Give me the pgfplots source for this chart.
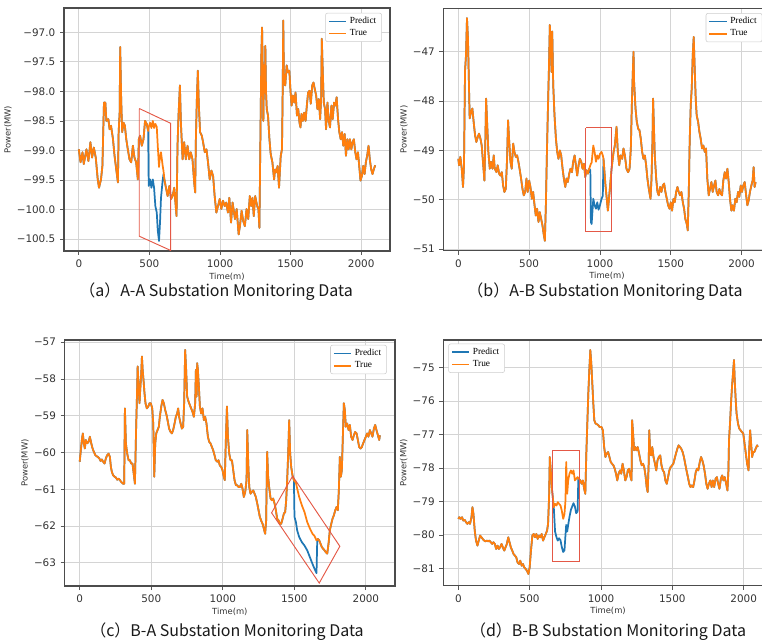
\documentclass[border=0pt]{standalone}
\usepackage{fontspec}
\usepackage{pgfplots}
\usepackage{pgfplotstable}
\pgfplotsset{compat=1.18}
\setmainfont{DejaVu Sans}
\newfontfamily\tickfont{DejaVu Sans}
\newfontfamily\legfont{Liberation Serif}
\newfontfamily\capfont{Noto Sans CJK SC}

\definecolor{mblue}{RGB}{31,119,180}
\definecolor{morange}{RGB}{255,127,14}
\definecolor{boxred}{RGB}{228,88,70}

\pgfplotstableread{
x t p
0 -98.98 -98.98
12 -99.20 -99.20
26 -99.03 -99.03
35 -99.23 -99.23
54 -98.98 -98.98
68 -99.18 -99.18
82 -98.86 -98.86
94 -99.12 -99.12
106 -98.95 -98.95
120 -99.12 -99.12
134 -99.49 -99.49
143 -99.63 -99.63
157 -99.49 -99.49
167 -99.26 -99.26
178 -98.19 -98.19
188 -98.19 -98.19
195 -98.50 -98.50
209 -98.47 -98.47
218 -98.64 -98.64
228 -98.58 -98.58
242 -98.81 -98.81
253 -99.09 -99.09
265 -99.32 -99.32
277 -99.54 -99.54
282 -98.69 -98.69
289 -98.36 -98.36
293 -97.25 -97.25
300 -98.13 -98.13
307 -98.69 -98.69
317 -98.53 -98.53
326 -98.58 -98.58
336 -98.81 -98.81
347 -98.98 -98.98
359 -99.15 -99.15
371 -99.20 -99.20
383 -98.92 -98.92
394 -99.12 -99.12
406 -99.20 -99.20
418 -99.49 -99.49
425 -98.81 -98.81
434 -98.75 -98.75
446 -98.92 -98.92
458 -98.81 -98.81
469 -98.50 -98.50
481 -98.55 -98.55
491 -98.67 -98.67
495 -98.60 -99.60
505 -98.53 -99.49
514 -98.62 -99.63
524 -98.50 -99.49
533 -98.62 -99.63
542 -98.55 -99.94
552 -98.60 -100.05
559 -98.92 -100.35
568 -99.28 -100.53
575 -99.10 -100.22
582 -99.03 -99.80
594 -99.26 -99.50
600 -99.35 -99.40
606 -99.49 -99.49
617 -99.63 -99.63
629 -99.77 -99.77
641 -99.60 -99.60
653 -99.82 -99.82
664 -99.77 -99.77
676 -99.63 -99.63
692 -100.11 -100.11
699 -98.92 -98.92
706 -98.41 -98.41
716 -97.90 -97.90
723 -98.53 -98.53
735 -99.15 -99.15
746 -98.86 -98.86
758 -99.15 -99.15
770 -98.92 -98.92
782 -99.15 -99.15
793 -99.03 -99.03
805 -99.15 -99.15
817 -99.54 -99.54
824 -99.71 -99.71
829 -98.81 -98.81
836 -98.13 -98.13
843 -97.65 -97.65
850 -98.24 -98.24
859 -98.69 -98.69
871 -98.75 -98.75
880 -98.86 -98.86
892 -99.03 -99.03
904 -98.98 -98.98
915 -99.20 -99.20
927 -99.49 -99.49
939 -99.34 -99.34
951 -99.43 -99.43
962 -99.77 -99.77
974 -100.05 -100.05
986 -99.94 -99.94
998 -99.82 -99.82
1009 -99.99 -99.99
1021 -99.85 -99.85
1033 -99.94 -99.94
1044 -99.88 -99.88
1056 -100.05 -100.05
1066 -99.80 -99.80
1078 -100.22 -100.22
1089 -99.88 -99.88
1106 -100.16 -100.16
1118 -99.99 -99.99
1132 -100.42 -100.42
1141 -100.28 -100.28
1153 -100.02 -100.02
1164 -100.19 -100.19
1176 -100.28 -100.28
1188 -99.99 -99.99
1200 -100.16 -100.16
1211 -99.77 -99.77
1221 -99.94 -99.94
1230 -99.80 -99.80
1239 -100.11 -100.11
1249 -99.77 -99.77
1263 -99.94 -99.94
1272 -99.99 -99.99
1279 -100.31 -100.31
1286 -98.81 -98.81
1293 -97.34 -97.34
1298 -96.92 -96.92
1303 -97.68 -97.68
1307 -98.50 -98.50
1312 -97.56 -97.56
1317 -98.02 -98.02
1321 -97.23 -97.23
1326 -98.02 -98.02
1331 -98.30 -98.30
1340 -98.41 -98.41
1350 -98.81 -98.81
1359 -99.06 -99.06
1371 -99.20 -99.20
1383 -99.49 -99.49
1390 -99.32 -99.32
1399 -99.37 -99.37
1408 -99.26 -99.26
1418 -99.63 -99.63
1430 -99.09 -99.09
1439 -98.98 -98.98
1444 -97.96 -97.96
1448 -96.80 -96.80
1453 -97.85 -97.85
1462 -97.90 -97.90
1472 -97.56 -97.56
1481 -97.68 -97.68
1491 -97.65 -97.65
1500 -98.02 -98.02
1507 -98.24 -98.24
1516 -98.07 -98.07
1526 -98.19 -98.19
1535 -98.02 -98.02
1545 -98.41 -98.41
1554 -98.30 -98.30
1563 -98.53 -98.53
1570 -98.61 -98.61
1577 -98.38 -98.38
1587 -98.50 -98.50
1596 -98.36 -98.36
1606 -98.50 -98.50
1615 -98.24 -98.24
1624 -98.02 -98.02
1634 -97.99 -97.99
1643 -98.21 -98.21
1653 -97.90 -97.90
1662 -97.85 -97.85
1671 -97.96 -97.96
1681 -98.07 -98.07
1690 -98.30 -98.30
1700 -98.13 -98.13
1709 -98.47 -98.47
1716 -98.13 -98.13
1721 -97.11 -97.11
1728 -97.68 -97.68
1735 -98.19 -98.19
1744 -98.30 -98.30
1751 -98.64 -98.64
1761 -98.19 -98.19
1770 -98.50 -98.50
1779 -98.61 -98.61
1789 -98.24 -98.24
1798 -98.47 -98.47
1808 -98.19 -98.19
1817 -98.24 -98.24
1826 -98.10 -98.10
1836 -98.47 -98.47
1845 -98.69 -98.69
1855 -98.81 -98.81
1864 -98.69 -98.69
1873 -98.92 -98.92
1883 -98.72 -98.72
1892 -99.09 -99.09
1902 -98.81 -98.81
1911 -98.98 -98.98
1920 -98.81 -98.81
1930 -98.98 -98.98
1939 -98.86 -98.86
1948 -98.81 -98.81
1958 -99.03 -99.03
1967 -99.15 -99.15
1977 -99.03 -99.03
1986 -99.26 -99.26
1995 -99.51 -99.51
2005 -99.43 -99.43
2014 -99.26 -99.26
2024 -99.40 -99.40
2033 -99.20 -99.20
2042 -99.09 -99.09
2052 -98.92 -98.92
2061 -99.15 -99.15
2071 -99.32 -99.32
2080 -99.40 -99.40
2089 -99.32 -99.32
2099 -99.25 -99.25
}\dataA

\pgfplotstableread{
x t p
0 -49.17 -49.17
5 -49.30 -49.30
14 -49.13 -49.13
24 -49.37 -49.37
33 -49.74 -49.74
40 -49.30 -49.30
47 -47.41 -47.41
54 -47.07 -47.07
61 -46.32 -46.32
68 -46.73 -46.73
73 -47.41 -47.41
80 -48.35 -48.35
90 -48.22 -48.22
99 -48.15 -48.15
108 -48.42 -48.42
118 -48.69 -48.69
127 -48.83 -48.83
137 -48.73 -48.73
146 -48.66 -48.66
156 -48.76 -48.76
165 -48.90 -48.90
174 -49.23 -49.23
184 -49.61 -49.61
191 -48.76 -48.76
196 -47.95 -47.95
203 -48.42 -48.42
212 -49.03 -49.03
222 -49.37 -49.37
231 -49.23 -49.23
241 -49.37 -49.37
250 -49.10 -49.10
257 -49.37 -49.37
269 -49.44 -49.44
278 -49.30 -49.30
288 -49.47 -49.47
297 -49.51 -49.51
307 -49.44 -49.44
316 -49.71 -49.71
325 -49.84 -49.84
335 -49.78 -49.78
344 -49.17 -49.17
351 -48.39 -48.39
358 -48.76 -48.76
368 -49.23 -49.23
377 -49.37 -49.37
387 -48.86 -48.86
396 -49.03 -49.03
406 -49.13 -49.13
415 -49.10 -49.10
424 -49.23 -49.23
434 -49.40 -49.40
443 -49.57 -49.57
453 -49.78 -49.78
462 -49.91 -49.91
472 -49.84 -49.84
481 -49.57 -49.57
490 -49.84 -49.84
500 -49.61 -49.61
509 -49.74 -49.74
519 -49.98 -49.98
528 -49.84 -49.84
538 -50.11 -50.11
547 -50.32 -50.32
556 -50.18 -50.18
566 -50.45 -50.45
575 -50.25 -50.25
585 -50.39 -50.39
594 -50.52 -50.52
604 -50.72 -50.72
611 -50.83 -50.83
618 -50.11 -50.11
625 -49.10 -49.10
632 -48.22 -48.22
639 -47.41 -47.41
646 -46.46 -46.46
653 -46.86 -46.86
658 -47.41 -47.41
663 -46.59 -46.59
670 -47.68 -47.68
679 -48.29 -48.29
689 -48.76 -48.76
698 -49.03 -49.03
707 -49.17 -49.17
717 -49.00 -49.00
726 -49.10 -49.10
736 -49.37 -49.37
745 -49.57 -49.57
755 -49.74 -49.74
764 -49.57 -49.57
773 -49.64 -49.64
783 -49.47 -49.47
792 -49.37 -49.37
802 -49.44 -49.44
811 -49.23 -49.23
821 -49.10 -49.10
830 -49.30 -49.30
839 -49.51 -49.51
849 -49.30 -49.30
858 -49.17 -49.17
868 -49.23 -49.23
877 -49.37 -49.37
887 -49.27 -49.27
896 -49.54 -49.54
905 -49.40 -49.40
915 -49.47 -49.47
924 -49.37 -49.37
932 -49.30 -49.40
936 -49.27 -50.45
941 -49.25 -50.49
953 -48.90 -49.98
962 -49.03 -50.11
972 -49.23 -50.18
981 -49.10 -50.05
990 -49.17 -50.20
1000 -49.07 -50.11
1011 -49.03 -49.98
1020 -49.10 -49.92
1025 -49.17 -49.17
1039 -49.71 -49.71
1056 -50.22 -50.22
1068 -49.84 -49.84
1082 -49.37 -49.37
1096 -49.03 -49.03
1105 -48.90 -48.90
1117 -48.52 -48.52
1126 -49.03 -49.03
1136 -49.30 -49.30
1145 -49.10 -49.10
1157 -49.17 -49.17
1166 -48.96 -48.96
1176 -49.10 -49.10
1187 -49.37 -49.37
1199 -49.44 -49.44
1209 -49.37 -49.37
1218 -48.96 -48.96
1225 -48.08 -48.08
1232 -47.41 -47.41
1237 -47.00 -47.00
1241 -47.61 -47.61
1251 -48.15 -48.15
1260 -48.42 -48.42
1270 -48.56 -48.56
1279 -48.59 -48.59
1288 -48.76 -48.76
1298 -49.03 -49.03
1307 -49.17 -49.17
1317 -49.10 -49.10
1326 -49.30 -49.30
1335 -49.57 -49.57
1345 -49.78 -49.78
1357 -49.98 -49.98
1364 -49.57 -49.57
1371 -48.76 -48.76
1375 -47.95 -47.95
1380 -48.42 -48.42
1387 -49.10 -49.10
1397 -49.57 -49.57
1406 -49.84 -49.84
1415 -49.91 -49.91
1425 -49.74 -49.74
1434 -49.84 -49.84
1444 -49.71 -49.71
1453 -49.67 -49.67
1462 -49.84 -49.84
1472 -49.98 -49.98
1481 -50.11 -50.11
1491 -50.18 -50.18
1500 -50.05 -50.05
1509 -50.22 -50.22
1519 -49.98 -49.98
1528 -50.05 -50.05
1538 -49.84 -49.84
1547 -49.74 -49.74
1556 -49.84 -49.84
1566 -49.91 -49.91
1575 -49.84 -49.84
1585 -50.05 -50.05
1594 -50.18 -50.18
1603 -50.39 -50.39
1613 -50.49 -50.49
1620 -50.62 -50.62
1627 -49.84 -49.84
1634 -48.76 -48.76
1641 -48.08 -48.08
1648 -47.74 -47.74
1655 -47.07 -47.07
1662 -46.70 -46.70
1669 -47.34 -47.34
1676 -47.95 -47.95
1683 -48.29 -48.29
1693 -48.42 -48.42
1702 -48.62 -48.62
1711 -48.76 -48.76
1721 -48.96 -48.96
1730 -48.90 -48.90
1740 -49.03 -49.03
1749 -48.96 -48.96
1758 -49.57 -49.57
1768 -49.91 -49.91
1777 -49.78 -49.78
1787 -49.64 -49.64
1796 -49.84 -49.84
1806 -49.71 -49.71
1815 -49.61 -49.61
1824 -49.84 -49.84
1834 -49.91 -49.91
1843 -49.78 -49.78
1853 -49.88 -49.88
1862 -49.91 -49.91
1871 -49.61 -49.61
1881 -49.44 -49.44
1890 -49.57 -49.57
1900 -49.37 -49.37
1909 -49.64 -49.64
1918 -49.98 -49.98
1928 -50.22 -50.22
1937 -50.11 -50.11
1946 -50.22 -50.22
1956 -49.98 -49.98
1965 -50.05 -50.05
1975 -49.84 -49.84
1984 -49.94 -49.94
1994 -49.71 -49.71
2003 -49.84 -49.84
2012 -49.71 -49.71
2022 -49.64 -49.64
2031 -49.88 -49.88
2041 -50.11 -50.11
2050 -50.01 -50.01
2059 -49.84 -49.84
2069 -49.71 -49.71
2078 -49.61 -49.61
2085 -49.34 -49.34
2092 -49.74 -49.74
2099 -49.64 -49.64
}\dataB

\pgfplotstableread{
x t p
0 -60.25 -60.25
8 -59.94 -59.94
15 -59.66 -59.66
22 -59.48 -59.48
29 -59.75 -59.75
36 -59.89 -59.89
43 -59.66 -59.66
53 -59.75 -59.75
62 -59.71 -59.71
71 -59.57 -59.57
81 -59.75 -59.75
90 -59.89 -59.89
99 -59.98 -59.98
109 -60.07 -60.07
118 -60.10 -60.10
127 -60.12 -60.12
137 -60.16 -60.16
146 -60.23 -60.23
155 -60.19 -60.19
164 -60.25 -60.25
174 -60.30 -60.30
183 -60.16 -60.16
192 -60.07 -60.07
202 -60.03 -60.03
211 -60.12 -60.12
218 -60.39 -60.39
225 -60.53 -60.53
234 -60.62 -60.62
244 -60.66 -60.66
253 -60.68 -60.68
262 -60.74 -60.74
272 -60.71 -60.71
281 -60.75 -60.75
290 -60.80 -60.80
304 -60.85 -60.85
311 -60.85 -60.85
316 -58.80 -58.80
323 -59.75 -59.75
332 -60.03 -60.03
342 -60.21 -60.21
351 -60.21 -60.21
360 -60.30 -60.30
369 -60.30 -60.30
379 -60.62 -60.62
386 -60.85 -60.85
393 -59.57 -59.57
400 -58.48 -58.48
405 -57.66 -57.66
411 -58.12 -58.12
418 -58.66 -58.66
423 -58.30 -58.30
430 -57.85 -57.85
435 -57.39 -57.39
440 -57.75 -57.75
446 -58.03 -58.03
453 -58.39 -58.39
460 -58.66 -58.66
469 -58.80 -58.80
479 -58.75 -58.75
488 -58.66 -58.66
497 -58.66 -58.66
507 -58.80 -58.80
514 -59.21 -59.21
521 -60.66 -60.66
528 -59.75 -59.75
535 -59.48 -59.48
544 -59.39 -59.39
553 -59.30 -59.30
560 -59.03 -59.03
570 -58.75 -58.75
579 -58.57 -58.57
588 -58.66 -58.66
598 -58.85 -58.85
607 -58.98 -58.98
616 -59.16 -59.16
625 -59.35 -59.35
635 -59.44 -59.44
644 -59.48 -59.48
653 -59.39 -59.39
663 -59.21 -59.21
672 -59.03 -59.03
681 -58.94 -58.94
688 -58.80 -58.80
695 -59.03 -59.03
705 -59.21 -59.21
714 -59.35 -59.35
723 -59.30 -59.30
730 -58.66 -58.66
737 -57.21 -57.21
744 -57.75 -57.75
751 -58.48 -58.48
761 -58.62 -58.62
770 -58.71 -58.71
779 -58.80 -58.80
788 -58.89 -58.89
798 -59.03 -59.03
807 -58.66 -58.66
812 -57.75 -57.75
817 -58.48 -58.48
821 -57.57 -57.57
826 -57.75 -57.75
833 -58.21 -58.21
840 -58.75 -58.75
849 -58.94 -58.94
858 -58.80 -58.80
868 -59.12 -59.12
877 -59.03 -59.03
886 -59.21 -59.21
896 -59.57 -59.57
905 -59.71 -59.71
914 -59.75 -59.75
924 -59.85 -59.85
933 -59.94 -59.94
942 -60.07 -60.07
951 -60.21 -60.21
961 -60.25 -60.25
970 -60.21 -60.21
979 -60.35 -60.35
989 -60.39 -60.39
998 -60.48 -60.48
1007 -60.66 -60.66
1014 -60.75 -60.75
1022 -59.57 -59.57
1029 -58.75 -58.75
1036 -59.57 -59.57
1045 -60.03 -60.03
1054 -60.21 -60.21
1064 -60.21 -60.21
1073 -60.48 -60.48
1082 -60.75 -60.75
1092 -60.89 -60.89
1101 -60.89 -60.89
1110 -60.94 -60.94
1119 -60.94 -60.94
1129 -60.85 -60.85
1138 -60.98 -60.98
1147 -61.21 -61.21
1157 -61.07 -61.07
1166 -60.75 -60.75
1171 -59.39 -59.39
1178 -60.30 -60.30
1185 -60.94 -60.94
1194 -61.12 -61.12
1203 -61.07 -61.07
1213 -61.03 -61.03
1222 -61.12 -61.12
1231 -61.21 -61.21
1241 -61.39 -61.39
1250 -61.57 -61.57
1259 -61.75 -61.75
1268 -61.85 -61.85
1278 -61.94 -61.94
1287 -62.07 -62.07
1296 -62.21 -62.21
1303 -61.85 -61.85
1310 -59.98 -59.98
1317 -60.66 -60.66
1324 -60.94 -60.94
1334 -61.25 -61.25
1343 -61.30 -61.30
1352 -61.25 -61.25
1362 -61.39 -61.39
1371 -61.57 -61.57
1380 -61.80 -61.80
1390 -61.85 -61.85
1399 -61.94 -61.94
1408 -61.94 -61.94
1418 -61.80 -61.80
1427 -61.66 -61.66
1436 -61.62 -61.62
1443 -61.30 -61.30
1450 -60.75 -60.75
1457 -60.03 -60.03
1464 -59.12 -59.12
1471 -60.03 -60.03
1478 -60.39 -60.39
1487 -60.62 -60.62
1497 -60.75 -60.75
1501 -60.78 -61.75
1511 -60.82 -61.89
1520 -60.98 -62.12
1534 -61.21 -62.30
1553 -61.44 -62.44
1571 -61.62 -62.53
1590 -61.89 -62.66
1609 -62.07 -62.85
1627 -62.21 -63.03
1641 -62.27 -63.16
1655 -62.39 -63.28
1660 -62.37 -62.39
1664 -62.35 -62.35
1674 -62.39 -62.39
1683 -62.48 -62.48
1692 -62.57 -62.57
1702 -62.62 -62.62
1711 -62.66 -62.66
1720 -62.71 -62.71
1730 -62.75 -62.75
1739 -62.48 -62.48
1748 -62.12 -62.12
1758 -61.94 -61.94
1767 -61.80 -61.80
1776 -61.71 -61.71
1786 -61.57 -61.57
1795 -61.48 -61.48
1804 -61.57 -61.57
1811 -61.03 -61.03
1818 -60.12 -60.12
1825 -60.66 -60.66
1832 -60.48 -60.48
1839 -59.57 -59.57
1846 -58.66 -58.66
1853 -58.85 -58.85
1860 -59.30 -59.30
1869 -59.21 -59.21
1879 -59.39 -59.39
1888 -59.25 -59.25
1897 -59.57 -59.57
1907 -59.66 -59.66
1916 -59.53 -59.53
1925 -59.44 -59.44
1935 -59.48 -59.48
1944 -59.66 -59.66
1953 -59.85 -59.85
1963 -59.89 -59.89
1972 -59.85 -59.85
1981 -59.75 -59.75
1990 -59.66 -59.66
2000 -59.57 -59.57
2009 -59.48 -59.48
2018 -59.57 -59.57
2028 -59.39 -59.39
2037 -59.48 -59.48
2046 -59.57 -59.57
2056 -59.35 -59.35
2065 -59.25 -59.25
2074 -59.39 -59.39
2084 -59.53 -59.53
2093 -59.66 -59.66
2098 -59.53 -59.53
}\dataC

\pgfplotstableread{
x t p
0 -79.52 -79.52
7 -79.47 -79.47
16 -79.52 -79.52
26 -79.47 -79.47
35 -79.57 -79.57
45 -79.55 -79.55
54 -79.62 -79.62
63 -79.67 -79.67
73 -79.62 -79.62
82 -79.67 -79.67
92 -79.47 -79.47
99 -79.17 -79.17
106 -79.37 -79.37
115 -79.87 -79.87
124 -80.17 -80.17
134 -80.32 -80.32
143 -80.17 -80.17
153 -80.02 -80.02
162 -80.07 -80.07
171 -80.12 -80.12
181 -80.17 -80.17
190 -80.19 -80.19
200 -80.17 -80.17
209 -80.19 -80.19
218 -80.17 -80.17
228 -80.22 -80.22
237 -80.27 -80.27
246 -80.22 -80.22
256 -80.27 -80.27
265 -80.42 -80.42
275 -80.32 -80.32
284 -80.42 -80.42
293 -80.37 -80.37
303 -80.27 -80.27
312 -80.37 -80.37
322 -80.47 -80.47
331 -80.37 -80.37
340 -80.27 -80.27
350 -80.07 -80.07
359 -80.22 -80.22
368 -80.37 -80.37
378 -80.47 -80.47
387 -80.57 -80.57
397 -80.62 -80.62
406 -80.67 -80.67
415 -80.82 -80.82
425 -80.87 -80.87
434 -80.77 -80.77
444 -80.92 -80.92
453 -80.87 -80.87
462 -80.97 -80.97
472 -81.02 -81.02
481 -81.07 -81.07
491 -81.17 -81.17
500 -80.97 -80.97
509 -80.47 -80.47
519 -80.02 -80.02
528 -79.97 -79.97
537 -80.07 -80.07
547 -79.97 -79.97
556 -80.12 -80.12
566 -80.02 -80.02
575 -80.07 -80.07
584 -79.97 -79.97
594 -80.17 -80.17
603 -80.07 -80.07
613 -79.97 -79.97
622 -79.87 -79.87
629 -79.67 -79.67
636 -78.87 -78.87
641 -77.67 -77.67
648 -78.07 -78.07
655 -78.57 -78.57
662 -78.87 -78.87
669 -79.17 -79.17
678 -79.07 -79.90
688 -79.12 -80.07
697 -79.02 -80.17
706 -79.07 -80.10
716 -79.12 -80.16
725 -79.27 -80.36
735 -79.52 -80.51
744 -79.37 -80.46
751 -78.97 -80.00
756 -77.82 -79.70
763 -78.77 -79.90
770 -78.37 -79.70
779 -78.17 -79.46
789 -78.07 -79.25
798 -78.17 -79.15
807 -78.07 -79.05
817 -78.37 -79.15
826 -78.32 -79.35
836 -78.27 -79.30
841 -78.30 -78.30
854 -78.37 -78.37
864 -78.47 -78.47
873 -78.37 -78.37
882 -78.62 -78.62
890 -78.77 -78.77
897 -77.57 -77.57
904 -76.67 -76.67
911 -75.77 -75.77
918 -75.07 -75.07
925 -74.47 -74.47
932 -74.87 -74.87
939 -75.47 -75.47
946 -76.07 -76.07
953 -76.57 -76.57
962 -76.67 -76.67
972 -76.69 -76.69
981 -76.72 -76.72
990 -76.77 -76.77
1003 -76.77 -76.77
1013 -76.87 -76.87
1022 -77.37 -77.37
1031 -77.67 -77.67
1040 -77.57 -77.57
1050 -77.52 -77.52
1059 -77.67 -77.67
1068 -77.82 -77.82
1077 -77.87 -77.87
1087 -77.92 -77.92
1096 -78.02 -78.02
1105 -78.17 -78.17
1114 -78.37 -78.37
1123 -78.17 -78.17
1133 -78.07 -78.07
1142 -78.17 -78.17
1151 -77.87 -77.87
1160 -78.07 -78.07
1170 -78.37 -78.37
1179 -78.27 -78.27
1188 -78.07 -78.07
1197 -78.02 -78.02
1207 -78.27 -78.27
1214 -78.37 -78.37
1218 -76.57 -76.57
1225 -76.97 -76.97
1232 -77.47 -77.47
1239 -77.37 -77.37
1248 -77.47 -77.47
1257 -77.37 -77.37
1267 -77.57 -77.57
1276 -77.77 -77.77
1285 -77.92 -77.92
1294 -77.87 -77.87
1303 -77.97 -77.97
1313 -78.27 -78.27
1320 -78.57 -78.57
1327 -78.72 -78.72
1334 -77.87 -77.87
1338 -76.87 -76.87
1345 -77.57 -77.57
1352 -77.62 -77.62
1359 -77.37 -77.37
1368 -77.67 -77.67
1378 -77.87 -77.87
1387 -78.07 -78.07
1396 -77.77 -77.77
1405 -77.67 -77.67
1415 -77.62 -77.62
1424 -77.92 -77.92
1433 -78.07 -78.07
1442 -78.12 -78.12
1451 -78.37 -78.37
1461 -78.47 -78.47
1470 -78.27 -78.27
1479 -78.07 -78.07
1488 -77.97 -77.97
1498 -77.92 -77.92
1507 -77.87 -77.87
1516 -77.72 -77.72
1525 -77.57 -77.57
1535 -77.42 -77.42
1544 -77.32 -77.32
1553 -77.37 -77.37
1562 -77.42 -77.42
1572 -77.52 -77.52
1581 -77.67 -77.67
1590 -77.87 -77.87
1599 -78.07 -78.07
1609 -78.27 -78.27
1618 -78.47 -78.47
1627 -78.57 -78.57
1636 -78.52 -78.52
1646 -78.57 -78.57
1655 -78.37 -78.37
1664 -78.12 -78.12
1673 -78.02 -78.02
1682 -78.07 -78.07
1692 -77.82 -77.82
1701 -77.67 -77.67
1710 -77.77 -77.77
1719 -77.92 -77.92
1729 -78.17 -78.17
1738 -78.47 -78.47
1747 -78.62 -78.62
1756 -78.47 -78.47
1766 -78.37 -78.37
1775 -78.57 -78.57
1784 -78.37 -78.37
1793 -78.57 -78.57
1803 -78.32 -78.32
1812 -78.27 -78.27
1821 -78.47 -78.47
1830 -78.62 -78.62
1840 -78.32 -78.32
1849 -78.22 -78.22
1858 -78.37 -78.37
1867 -78.27 -78.27
1877 -78.47 -78.47
1886 -78.67 -78.67
1893 -78.07 -78.07
1897 -77.17 -77.17
1904 -76.67 -76.67
1911 -76.07 -76.07
1918 -75.57 -75.57
1925 -75.17 -75.17
1932 -74.77 -74.77
1937 -75.37 -75.37
1944 -75.97 -75.97
1950 -76.37 -76.37
1960 -76.67 -76.67
1969 -76.82 -76.82
1978 -76.87 -76.87
1987 -76.92 -76.92
1997 -76.97 -76.97
2006 -77.27 -77.27
2015 -77.57 -77.57
2024 -77.87 -77.87
2034 -78.07 -78.07
2038 -77.47 -77.47
2045 -76.87 -76.87
2052 -77.27 -77.27
2059 -77.67 -77.67
2066 -77.52 -77.52
2075 -77.52 -77.52
2084 -77.42 -77.42
2094 -77.32 -77.32
2098 -77.37 -77.37
}\dataD

\pgfplotsset{
  panel/.style={
    scale only axis,
    xmin=-105, xmax=2204,
    xtick={0,500,1000,1500,2000},
    xticklabels={0,500,1000,1500,2000},
    tick pos=left,
    tick align=outside,
    major tick length=3pt,
    grid=major,
    major grid style={black!17, line width=0.7pt},
    axis line style={black!70, line width=0.9pt},
    tick style={black!65, line width=0.6pt},
    tick label style={font=\tickfont\fontsize{7.8}{9}\selectfont, text=black!80},
    label style={font=\tickfont\fontsize{6.3}{7}\selectfont, text=black!80},
    xlabel={Time(m)},
    ylabel={Power(MW)},
    xlabel style={yshift=3pt},
    ylabel style={yshift=-3pt},
    legend style={font=\legfont\fontsize{7}{8}\selectfont, draw=black!20, rounded corners=1.5pt, fill=white, inner xsep=2pt, inner ysep=1pt, row sep=-1pt},
    legend cell align=left,
    legend image code/.code={\draw[##1, line width=1.2pt] (0pt,0pt) -- (13pt,0pt);},
  },
  tline/.style={morange, line width=1.3pt, no markers, line join=round},
  pline/.style={mblue, line width=1.3pt, no markers, line join=round},
  rbox/.style={boxred, line width=0.7pt, no markers, forget plot},
}

\begin{document}
\begin{tikzpicture}
\path[use as bounding box] (0pt,0pt) rectangle (571.5pt,481.5pt);
\clip (0pt,0pt) rectangle (571.5pt,481.5pt);

% (a)
\begin{axis}[panel, at={(48pt,293.25pt)}, anchor=south west,
  width=244.5pt, height=182.25pt,
  ymin=-100.70, ymax=-96.59,
  ytick={-100.5,-100,-99.5,-99,-98.5,-98,-97.5,-97},
  yticklabels={−100.5,−100.0,−99.5,−99.0,−98.5,−98.0,−97.5,−97.0},
  legend style={at={(rel axis cs:0.975,0.98)}, anchor=north east}]
\addplot[pline] table[x=x,y=p] {\dataA};
\addlegendentry{Predict}
\addplot[tline] table[x=x,y=t] {\dataA};
\addlegendentry{True}
\addplot[rbox] coordinates {(428,-98.29) (428,-100.45) (650,-100.69) (650,-98.54) (428,-98.29)};
\end{axis}

% (b)
\begin{axis}[panel, at={(332.6pt,293.5pt)}, anchor=south west,
  width=245.25pt, height=181.8pt,
  ymin=-51.03, ymax=-46.12,
  ytick={-51,-50,-49,-48,-47},
  yticklabels={−51,−50,−49,−48,−47},
  legend style={at={(rel axis cs:0.975,0.98)}, anchor=north east}]
\addplot[pline] table[x=x,y=p] {\dataB};
\addlegendentry{Predict}
\addplot[tline] table[x=x,y=t] {\dataB};
\addlegendentry{True}
\addplot[rbox] coordinates {(900,-48.54) (1081,-48.54) (1081,-50.64) (900,-50.64) (900,-48.54)};
\end{axis}

% (c)
\begin{axis}[panel, at={(48.5pt,42pt)}, anchor=south west,
  width=247.8pt, height=184.5pt,
  ymin=-63.63, ymax=-56.94,
  ytick={-63,-62,-61,-60,-59,-58,-57},
  yticklabels={−63,−62,−61,−60,−59,−58,−57},
  legend style={at={(rel axis cs:0.975,0.98)}, anchor=north east}]
\addplot[pline] table[x=x,y=p] {\dataC};
\addlegendentry{Predict}
\addplot[tline] table[x=x,y=t] {\dataC};
\addlegendentry{True}
\addplot[rbox] coordinates {(1488,-60.64) (1341,-61.64) (1674,-63.55) (1818,-62.55) (1488,-60.64)};
\end{axis}

% (d)
\begin{axis}[panel, at={(332.5pt,42.2pt)}, anchor=south west,
  width=247.1pt, height=184.3pt,
  ymin=-81.52, ymax=-74.17,
  ytick={-81,-80,-79,-78,-77,-76,-75},
  yticklabels={−81,−80,−79,−78,−77,−76,−75},
  legend style={at={(rel axis cs:0.015,0.985)}, anchor=north west}]
\addplot[pline] table[x=x,y=p] {\dataD};
\addlegendentry{Predict}
\addplot[tline] table[x=x,y=t] {\dataD};
\addlegendentry{True}
\addplot[rbox] coordinates {(659,-77.46) (848,-77.46) (848,-80.79) (659,-80.79) (659,-77.46)};
\end{axis}

\node[font=\capfont\fontsize{12}{14}\selectfont, text=black!90] at (162pt,262.5pt) {（a）A-A Substation Monitoring Data};
\node[font=\capfont\fontsize{12}{14}\selectfont, text=black!90] at (453.75pt,262.5pt) {（b）A-B Substation Monitoring Data};
\node[font=\capfont\fontsize{12}{14}\selectfont, text=black!90] at (170.25pt,7.7pt) {（c）B-A Substation Monitoring Data};
\node[font=\capfont\fontsize{12}{14}\selectfont, text=black!90] at (456pt,7.7pt) {（d）B-B Substation Monitoring Data};
\end{tikzpicture}
\end{document}
